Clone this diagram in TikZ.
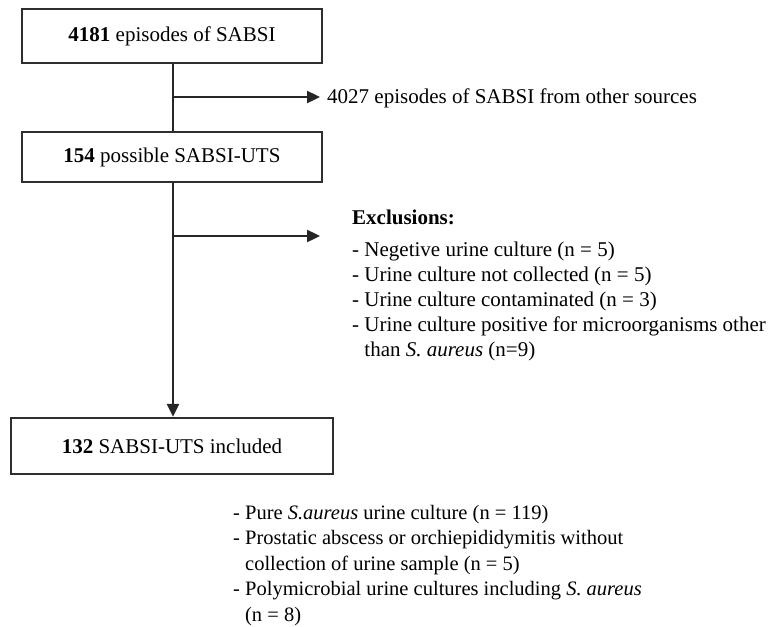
\documentclass[tikz,border=0pt]{standalone}
\usepackage{fontspec}
\setmainfont{Liberation Serif}
\usetikzlibrary{arrows.meta}
\begin{document}
\begin{tikzpicture}[x=1pt,y=-1pt,
  box/.style={draw=black!82,line width=2.2pt,fill=white,inner sep=0pt,font=\fontsize{21}{25}\selectfont},
  conn/.style={draw=black!85,line width=2.4pt},
  arr/.style={conn,-{Triangle[length=13pt,width=12pt]}},
  txt/.style={inner sep=0pt,align=left,font=\fontsize{21}{25}\selectfont},
  btxt/.style={inner sep=0pt,align=left,font=\fontsize{20.5}{25.5}\selectfont}]
\useasboundingbox (0,0) rectangle (772,627);
\node[box,minimum width=300pt,minimum height=54pt] (b1) at (172,36) {\textbf{4181} episodes of SABSI};
\node[box,minimum width=300pt,minimum height=50pt] (b2) at (172,157) {\textbf{154} possible SABSI-UTS};
\node[box,minimum width=322pt,minimum height=56pt] (b3) at (172,446) {\textbf{132} SABSI-UTS included};
\coordinate (j1) at (173,97);
\coordinate (e1) at (320,97);
\coordinate (j2) at (173,236);
\coordinate (e2) at (320,236);
\draw[conn] (b1.south -| j1) -- (b2.north -| j1);
\draw[arr] (j1) -- (e1);
\draw[arr] (b2.south -| j1) -- (b3.north -| j1);
\draw[arr] (j2) -- (e2);
\node[txt,anchor=base west] (t1) at (327,103) {4027 episodes of SABSI from other sources};
% base anchor of a multi-line node = baseline of its last line
\node[txt,anchor=base west] (t2) at (352,356) {\textbf{Exclusions:}\\[7pt]
- Negetive urine culture (n = 5)\\
- Urine culture not collected (n = 5)\\
- Urine culture contaminated (n = 3)\\
- Urine culture positive for microorganisms other\\
\phantom{- }than \textit{S. aureus} (n=9)};
\node[btxt,anchor=base west] (t3) at (233,621) {- Pure \textit{S.aureus} urine culture (n = 119)\\
- Prostatic abscess or orchiepididymitis without\\
\phantom{- }collection of urine sample (n = 5)\\
- Polymicrobial urine cultures including \textit{S. aureus}\\
\phantom{- }(n = 8)};
\end{tikzpicture}
\end{document}
